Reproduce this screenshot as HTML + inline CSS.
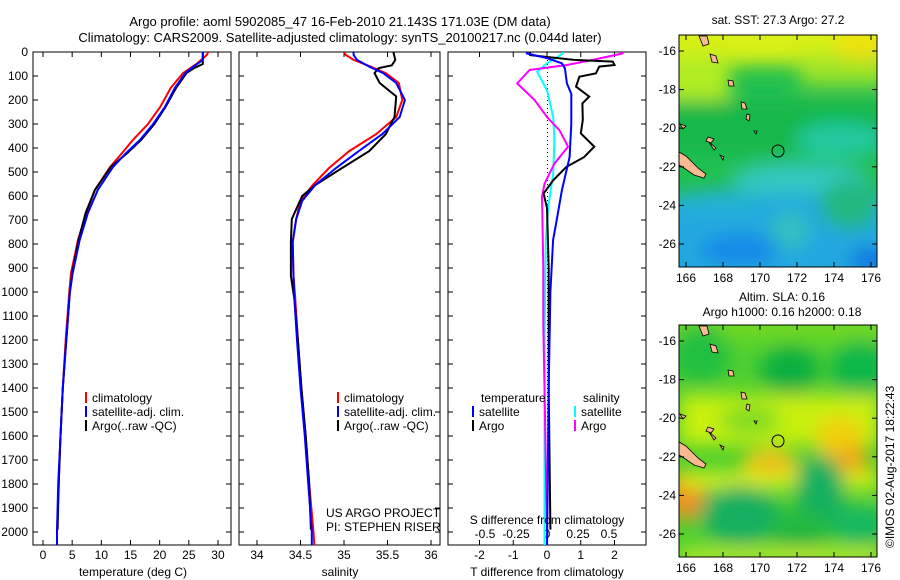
<!DOCTYPE html>
<html><head><meta charset="utf-8">
<style>
html,body{margin:0;padding:0;background:#fff;}
svg{display:block;font-family:"Liberation Sans",sans-serif;}
text{font-size:12px;fill:#000;}
</style></head>
<body>
<svg id="fig" width="900" height="580" viewBox="0 0 900 580" xmlns="http://www.w3.org/2000/svg">
<defs>
<filter id="blur1" x="-20%" y="-20%" width="140%" height="140%"><feGaussianBlur stdDeviation="9"/></filter>
<clipPath id="clipM1"><rect x="679" y="35" width="198" height="232"/></clipPath>
<clipPath id="clipM2"><rect x="679" y="325" width="198" height="232"/></clipPath>
<clipPath id="clipP1"><rect x="33" y="52" width="198" height="493"/></clipPath>
<clipPath id="clipP2"><rect x="239" y="52" width="201" height="493"/></clipPath>
<clipPath id="clipP3"><rect x="448" y="52" width="198" height="493"/></clipPath>
</defs>
<text x="340" y="26" text-anchor="middle" style="font-size:13px">Argo profile: aoml 5902085_47 16-Feb-2010 21.143S 171.03E (DM data)</text>
<text x="340" y="42" text-anchor="middle" style="font-size:13px">Climatology: CARS2009. Satellite-adjusted climatology: synTS_20100217.nc (0.044d later)</text>

<!-- Map 1 -->
<g>
<g clip-path="url(#clipM1)">
<rect x="679" y="35" width="198" height="232" fill="#22c050"/>
<g filter="url(#blur1)">
<rect x="660" y="15" width="240" height="50" fill="#d8f018"/>
<rect x="660" y="55" width="70" height="45" fill="#b0ec20"/>
<rect x="800" y="55" width="90" height="30" fill="#a0e428"/>
<ellipse cx="860" cy="45" rx="25" ry="15" fill="#f0e010"/>
<rect x="660" y="100" width="240" height="55" fill="#18b848"/>
<ellipse cx="840" cy="140" rx="45" ry="18" fill="#20c8a0"/>
<ellipse cx="800" cy="180" rx="70" ry="18" fill="#30c8c0"/>
<rect x="660" y="195" width="240" height="90" fill="#20a8e0"/>
<ellipse cx="720" cy="205" rx="45" ry="15" fill="#20b0d8"/>
<ellipse cx="850" cy="205" rx="30" ry="25" fill="#20b880"/>
<ellipse cx="740" cy="250" rx="40" ry="15" fill="#1888e8"/>
<ellipse cx="870" cy="260" rx="20" ry="12" fill="#1070e0"/>
<ellipse cx="790" cy="230" rx="20" ry="20" fill="#30c0c0"/>
</g>
</g>
<g fill="#f8b890" stroke="#000" stroke-width="0.8">
<path d="M679,152 L686,156 L698,168 L706,174 L704,178 L694,175 L684,168 L679,165 Z"/>
<path d="M699,36 L707,36 L709,44 L703,46 Z"/>
<path d="M710,54 L716,56 L718,63 L712,62 Z"/>
<path d="M728,80 L733,81 L734,86 L729,86 Z"/>
<path d="M741,102 L745,103 L747,109 L742,109 Z"/>
<path d="M747,114 L750,115 L749,121 L746,119 Z"/>
<path d="M708,137 L714,139 L711,143 L706,141 Z"/>
<path d="M709,142 L716,148 L714,150 Z"/>
<path d="M720,155 L724,157 L723,160 Z"/>
<path d="M754,131 L757,131 L756,134 Z"/>
<path d="M680,124 L686,126 L683,129 Z"/>
</g>
<circle cx="778" cy="151" r="6" fill="none" stroke="#000" stroke-width="1"/>
<rect x="679" y="35" width="198" height="232" fill="none" stroke="#000" stroke-width="1"/>
<g id="m1ticks"></g>
</g>
<text x="778" y="24" text-anchor="middle">sat. SST: 27.3 Argo: 27.2</text>

<!-- Map 2 -->
<g>
<g clip-path="url(#clipM2)">
<rect x="679" y="325" width="198" height="232" fill="#50d030"/>
<g filter="url(#blur1)">
<rect x="660" y="310" width="240" height="30" fill="#70d820"/>
<ellipse cx="700" cy="355" rx="30" ry="30" fill="#20c040"/>
<ellipse cx="790" cy="370" rx="30" ry="25" fill="#10b040"/>
<ellipse cx="860" cy="370" rx="30" ry="30" fill="#10b848"/>
<rect x="680" y="395" width="200" height="50" fill="#c8f010"/>
<ellipse cx="750" cy="420" rx="30" ry="15" fill="#80dc20"/>
<ellipse cx="840" cy="440" rx="25" ry="25" fill="#f0d010"/>
<ellipse cx="770" cy="465" rx="28" ry="16" fill="#f0c818"/>
<ellipse cx="850" cy="465" rx="18" ry="20" fill="#f0a818"/>
<ellipse cx="772" cy="470" rx="14" ry="8" fill="#f0a020"/>
<ellipse cx="685" cy="495" rx="20" ry="25" fill="#f09020"/>
<rect x="680" y="472" width="200" height="16" fill="#d8f018"/>
<ellipse cx="740" cy="515" rx="40" ry="30" fill="#18b060"/>
<ellipse cx="820" cy="490" rx="25" ry="35" fill="#18b060"/>
<ellipse cx="860" cy="525" rx="30" ry="20" fill="#18b860"/>
<ellipse cx="800" cy="530" rx="30" ry="20" fill="#20b840"/>
<rect x="680" y="550" width="200" height="12" fill="#d8f020"/>
</g>
</g>
<g fill="#f8b890" stroke="#000" stroke-width="0.8">
<path d="M679,442 L686,446 L698,458 L706,464 L704,468 L694,465 L684,458 L679,455 Z"/>
<path d="M699,326 L707,326 L709,334 L703,336 Z"/>
<path d="M710,344 L716,346 L718,353 L712,352 Z"/>
<path d="M728,370 L733,371 L734,376 L729,376 Z"/>
<path d="M741,392 L745,393 L747,399 L742,399 Z"/>
<path d="M747,404 L750,405 L749,411 L746,409 Z"/>
<path d="M708,427 L714,429 L711,433 L706,431 Z"/>
<path d="M709,432 L716,438 L714,440 Z"/>
<path d="M720,445 L724,447 L723,450 Z"/>
<path d="M754,421 L757,421 L756,424 Z"/>
<path d="M680,414 L686,416 L683,419 Z"/>
</g>
<circle cx="778" cy="441" r="6" fill="none" stroke="#000" stroke-width="1"/>
<rect x="679" y="325" width="198" height="232" fill="none" stroke="#000" stroke-width="1"/>
<g id="m2ticks"></g>
</g>
<text x="782" y="301" text-anchor="middle">Altim. SLA: 0.16</text>
<text x="782" y="316" text-anchor="middle">Argo h1000: 0.16 h2000: 0.18</text>
<text transform="translate(894,548) rotate(-90)">©IMOS 02-Aug-2017 18:22:43</text>

<g id="panels"></g>

<!-- legends -->
<g>
<rect x="85" y="392" width="2" height="11" fill="#f00"/><text x="92" y="402">climatology</text>
<rect x="85" y="406" width="2" height="11" fill="#00f"/><text x="92" y="416">satellite-adj. clim.</text>
<rect x="85" y="420" width="2" height="11" fill="#000"/><text x="92" y="430">Argo(..raw -QC)</text>
</g>
<g>
<rect x="337" y="392" width="2" height="11" fill="#f00"/><text x="344" y="402">climatology</text>
<rect x="337" y="406" width="2" height="11" fill="#00f"/><text x="344" y="416">satellite-adj. clim.</text>
<rect x="337" y="420" width="2" height="11" fill="#000"/><text x="344" y="430">Argo(..raw -QC)</text>
</g>
<g>
<text x="481" y="402">temperature</text><text x="583" y="402">salinity</text>
<rect x="472" y="406" width="2" height="11" fill="#00f"/><text x="479" y="416">satellite</text>
<rect x="472" y="420" width="2" height="11" fill="#000"/><text x="479" y="430">Argo</text>
<rect x="574" y="406" width="2" height="11" fill="#0ff"/><text x="581" y="416">satellite</text>
<rect x="574" y="420" width="2" height="11" fill="#f0f"/><text x="581" y="430">Argo</text>
</g>
<text x="326" y="517">US ARGO PROJECT</text>
<text x="326" y="531">PI: STEPHEN RISER</text>
<text x="547" y="524" text-anchor="middle">S difference from climatology</text>
<text x="133" y="576" text-anchor="middle">temperature (deg C)</text>
<text x="340" y="576" text-anchor="middle">salinity</text>
<text x="547" y="576" text-anchor="middle">T difference from climatology</text>
</svg>
<script>
// ---- data ----
const tempClimDepth = [0,12,50,88,150,229,300,367,420,479,575,671,783,921,1004,1200,1400,1600,1800,2000,2060];
const tempClim      = [28.3,28.1,26.3,24.0,21.9,20.1,18.0,15.4,13.6,11.5,8.9,7.4,6.0,4.8,4.5,3.9,3.4,3.0,2.7,2.4,2.4];
const tempSatDepth  = [0,33,63,88,150,229,300,367,420,479,575,671,783,921,1004,1200,1400,1600,1800,2000,2060];
const tempSat       = [27.4,27.4,25.7,24.4,22.6,20.9,18.9,16.6,14.3,12.0,9.4,7.7,6.3,5.1,4.6,4.0,3.4,3.0,2.6,2.4,2.4];
const tempArgoDepth = [0,50,67,88,150,229,300,367,420,479,575,671,783,921,1004,1200,1400,1600,1800,1990];
const tempArgo      = [27.4,27.4,25.9,24.6,22.8,21.0,19.1,16.8,14.5,11.6,8.9,7.3,6.1,5.0,4.6,4.0,3.4,3.0,2.7,2.5];

const salDepth     = [0,12,33,63,88,129,200,271,342,413,483,554,620,696,792,933,1030,1200,1400,1600,1800,2000,2060];
const salClim      = [35.0,35.02,35.11,35.32,35.48,35.63,35.67,35.6,35.37,35.06,34.83,34.64,34.5,34.45,34.41,34.42,34.44,34.47,34.51,34.56,34.6,34.65,34.66];
const salSat       = [35.11,35.11,35.15,35.30,35.45,35.60,35.70,35.64,35.44,35.17,34.91,34.67,34.52,34.45,34.41,34.42,34.43,34.46,34.5,34.55,34.59,34.63,34.63];
const salArgoDepth = [0,4,33,56,67,88,129,185,271,342,413,483,554,600,696,792,933,1030,1200,1400,1600,1800,1990];
const salArgo      = [35.57,35.57,35.59,35.55,35.40,35.35,35.41,35.6,35.58,35.48,35.29,34.98,34.67,34.52,34.40,34.39,34.39,34.43,34.47,34.51,34.56,34.6,34.62];

const tdSatDepth  = [0,6,26,47,68,131,174,299,438,576,715,783,1000,1400,1800,2060];
const tdSat       = [-0.6,-0.6,0.0,0.44,0.53,0.59,0.72,0.72,0.67,0.44,0.27,0.18,0.1,0.05,0.02,0.0];
const tdArgoDepth = [0,13,33,40,54,61,89,103,144,186,214,283,339,394,438,479,535,590,650,900,1400,1990];
const tdArgo      = [-0.5,-0.5,0.8,1.95,2.0,1.55,1.45,0.96,0.86,1.25,1.05,1.06,1.0,1.4,1.1,0.57,0.18,-0.1,0.0,0.05,0.05,0.1];
const sdSatDepth  = [0,6,47,82,160,271,368,507,646,783,1200,1600,2060];
const sdSat       = [0.13,0.13,0.0,-0.08,0.0,0.05,0.06,0.05,0.01,-0.01,-0.02,-0.02,-0.02];
const sdArgoDepth = [0,6,33,54,75,131,200,271,326,394,465,549,604,900,1100,1140,1400,1990];
const sdArgo      = [0.61,0.61,0.37,0.16,-0.14,-0.24,-0.10,0.0,0.1,0.17,0.06,-0.02,-0.04,-0.03,-0.03,-0.03,-0.02,0.0];

const depthTicks = [0,100,200,300,400,500,600,700,800,900,1000,1100,1200,1300,1400,1500,1600,1700,1800,1900,2000];
const tempTicks = [0,5,10,15,20,25,30];
const salTicks = [34,34.5,35,35.5,36];
const tdTicks = [-2,-1,0,1,2];
const sdTicks = [-0.5,-0.25,0,0.25,0.5];
const latTicks = [-16,-18,-20,-22,-24,-26];
const lonTicks = [166,168,170,172,174,176];

// ---- axes ----
const yD = d => 52 + d*0.24;
const xT = t => 43 + t*5.833;
const xS = s => 257 + (s-34)*87;
const xTD = v => 547 + v*33.75;
const xSD = v => 547 + v*124;
const NS='http://www.w3.org/2000/svg';
const root=document.getElementById('panels');
function mk(tag,attrs,parent){const e=document.createElementNS(NS,tag);for(const k in attrs)e.setAttribute(k,attrs[k]);(parent||root).appendChild(e);return e;}
function line(xs,ds,fx,color,clip,name,w){
  const pts=xs.map((v,i)=>fx(v).toFixed(1)+','+yD(ds[i]).toFixed(1)).join(' ');
  const p=mk('polyline',{points:pts,fill:'none',stroke:color,'stroke-width':w||2,'clip-path':'url(#'+clip+')'});
  
  
}
function frame(x0,x1,name){
  const r=mk('rect',{x:x0,y:52,width:x1-x0,height:493,fill:'none',stroke:'#000','stroke-width':1});
  
  
  depthTicks.forEach(d=>{const y=yD(d);mk('line',{x1:x0,x2:x0+5,y1:y,y2:y,stroke:'#000'});mk('line',{x1:x1-5,x2:x1,y1:y,y2:y,stroke:'#000'});});
}
function xticks(vals,fx,ylab,labs){
  vals.forEach((v,i)=>{const x=fx(v);mk('line',{x1:x,x2:x,y1:52,y2:57,stroke:'#000'});mk('line',{x1:x,x2:x,y1:540,y2:545,stroke:'#000'});
    const t=mk('text',{x:x,y:ylab,'text-anchor':'middle'});t.textContent=labs?labs[i]:String(v);
    
    });
}
// panel 1
frame(33,231,'temperature-panel');
depthTicks.forEach(d=>{const t=mk('text',{x:28,y:yD(d)+4,'text-anchor':'end'});t.textContent=String(d);
  
  });
xticks(tempTicks,xT,559);
line(tempClim,tempClimDepth,xT,'#f00','clipP1','temperature-climatology-line');
line(tempArgo,tempArgoDepth,xT,'#000','clipP1','temperature-argo-line');
line(tempSat,tempSatDepth,xT,'#00f','clipP1','temperature-satellite-line');
// panel 2
frame(239,440,'salinity-panel');
xticks(salTicks,xS,559);
line(salClim,salDepth,xS,'#f00','clipP2','salinity-climatology-line');
line(salArgo,salArgoDepth,xS,'#000','clipP2','salinity-argo-line');
line(salSat,salDepth,xS,'#00f','clipP2','salinity-satellite-line');
// panel 3
frame(448,646,'difference-panel');
xticks(tdTicks,xTD,559);
sdTicks.forEach(v=>{const t=mk('text',{x:xSD(v),y:538,'text-anchor':'middle'});t.textContent=String(v);
  
  });
mk('line',{x1:547.5,x2:547.5,y1:52,y2:545,stroke:'#000','stroke-dasharray':'1,3'});
line(sdSat,sdSatDepth,xSD,'#0ff','clipP3','s-diff-satellite-line');
line(sdArgo,sdArgoDepth,xSD,'#f0f','clipP3','s-diff-argo-line');
line(tdArgo,tdArgoDepth,xTD,'#000','clipP3','t-diff-argo-line');
line(tdSat,tdSatDepth,xTD,'#00f','clipP3','t-diff-satellite-line');

// map ticks
function mapTicks(gid,top){
  const g=document.getElementById(gid);
  const yL=lat=>top+16+(-16-lat)*19.3;
  const xL=lon=>686+(lon-166)*18.5;
  latTicks.forEach(l=>{const y=yL(l);mk('line',{x1:679,x2:684,y1:y,y2:y,stroke:'#000'},g);mk('line',{x1:872,x2:877,y1:y,y2:y,stroke:'#000'},g);
    const t=mk('text',{x:676,y:y+4,'text-anchor':'end'},g);t.textContent=String(l);
    
    });
  lonTicks.forEach(l=>{const x=xL(l);mk('line',{x1:x,x2:x,y1:top,y2:top+5,stroke:'#000'},g);mk('line',{x1:x,x2:x,y1:top+227,y2:top+232,stroke:'#000'},g);
    const t=mk('text',{x:x,y:top+247,'text-anchor':'middle'},g);t.textContent=String(l);
    
    });
}
mapTicks('m1ticks',35);
mapTicks('m2ticks',325);
</script>
</body></html>
